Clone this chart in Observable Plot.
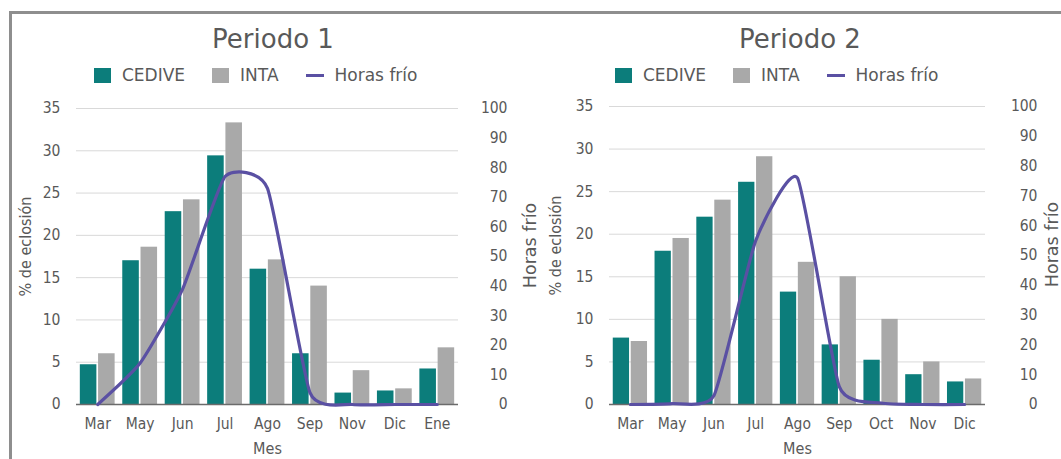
<!DOCTYPE html>
<html>
<head>
<meta charset="utf-8">
<script src="https://cdn.jsdelivr.net/npm/d3@7"></script>
<script src="https://cdn.jsdelivr.net/npm/@observablehq/plot@0.6"></script>
<style>
  html, body { margin: 0; padding: 0; background: #fff; }
  body { width: 1061px; height: 459px; overflow: hidden; position: relative; font-family: "DejaVu Sans", sans-serif; color: #595959; }
  #frame { position: absolute; left: 9px; top: 11px; width: 1200px; height: 600px; border: 3px solid #8e8e8e; box-sizing: border-box; }
  .title { position: absolute; font-size: 26px; line-height: 30px; white-space: nowrap; transform: translateX(-50%); }
  .legend { position: absolute; display: flex; align-items: center; font-size: 17px; line-height: 20px; white-space: nowrap; }
  .legend .item { display: flex; align-items: center; margin-right: 27px; }
  .legend .sw { width: 17px; height: 15px; margin-right: 11px; }
  .legend .ln { width: 18px; height: 3px; margin-right: 11px; }
  .panel { position: absolute; }
</style>
</head>
<body>
<div id="frame"></div>
<div id="root"></div>
<script>
// ---- data ----
const months1 = ["Mar", "May", "Jun", "Jul", "Ago", "Sep", "Nov", "Dic", "Ene"];
const cedive1 = [4.7, 17.0, 22.8, 29.4, 16.0, 6.0, 1.35, 1.6, 4.2];
const inta1   = [6.0, 18.6, 24.2, 33.3, 17.1, 14.0, 4.0, 1.85, 6.7];
const horas1  = [0, 14, 39, 77, 73, 4, 0, 0, 0];

const months2 = ["Mar", "May", "Jun", "Jul", "Ago", "Sep", "Oct", "Nov", "Dic"];
const cedive2 = [7.8, 18.0, 22.0, 26.1, 13.2, 7.0, 5.2, 3.5, 2.65];
const inta2   = [7.4, 19.5, 24.0, 29.1, 16.7, 15.0, 10.0, 5.0, 3.0];
const horas2  = [0, 0.3, 3, 55, 76, 6, 0.5, 0, 0];

const titles = ["Periodo 1", "Periodo 2"];
const seriesNames = ["CEDIVE", "INTA", "Horas frío"];
const yTicks = [0, 5, 10, 15, 20, 25, 30, 35];
const y2Ticks = [0, 10, 20, 30, 40, 50, 60, 70, 80, 90, 100];
const yLabel = "% de eclosión";
const y2Label = "Horas frío";
const xLabel = "Mes";

const colors = { CEDIVE: "#0c7d7b", INTA: "#a9a9a9", line: "#5a50a3" };
const textColor = "#595959";

// ---- layout per panel ----
const panels = [
  { months: months1, cedive: cedive1, inta: inta1, horas: horas1, title: titles[0],
    left: 0, top: 90, width: 530, mL: 76, mR: 72, titleX: 273, legendX: 94, rPad: 49, r2dx: 72, ldx: -51 },
  { months: months2, cedive: cedive2, inta: inta2, horas: horas2, title: titles[1],
    left: 530, top: 88, width: 531, mL: 79, mR: 76, titleX: 800, legendX: 615, rPad: 52, r2dx: 67, ldx: -54 }
];

const k = 35 / 100; // secondary axis mapping (Horas frío 0-100 -> 0-35)
const root = document.getElementById("root");

panels.forEach(p => {
  // title
  const t = document.createElement("div");
  t.className = "title";
  t.style.left = p.titleX + "px";
  t.style.top = "24px";
  t.textContent = p.title;
  root.appendChild(t);

  // legend
  const lg = document.createElement("div");
  lg.className = "legend";
  lg.style.left = p.legendX + "px";
  lg.style.top = "65px";
  lg.innerHTML =
    `<div class="item"><div class="sw" style="background:${colors.CEDIVE}"></div>${seriesNames[0]}</div>` +
    `<div class="item"><div class="sw" style="background:${colors.INTA}"></div>${seriesNames[1]}</div>` +
    `<div class="item"><div class="ln" style="background:${colors.line}"></div>${seriesNames[2]}</div>`;
  root.appendChild(lg);

  const n = p.months.length;
  const bars = [];
  p.months.forEach((m, i) => {
    bars.push({ i, s: "CEDIVE", v: p.cedive[i], x1: i - 0.41, x2: i - 0.02 });
    bars.push({ i, s: "INTA", v: p.inta[i], x1: i + 0.02, x2: i + 0.41 });
  });
  const line = p.horas.map((h, i) => ({ i, h }));

  const chart = Plot.plot({
    width: p.width,
    height: 459 - p.top,
    marginLeft: p.mL,
    marginRight: p.mR,
    marginTop: 18,
    marginBottom: 55,
    style: { fontFamily: "DejaVu Sans Condensed, DejaVu Sans, sans-serif", fontSize: "15.5px", color: textColor, background: "transparent", overflow: "visible" },
    x: { domain: [-0.5, n - 0.5] },
    y: { domain: [0, 35] },
    marks: [
      Plot.gridY(yTicks.filter(d => d > 0), { stroke: "#d9d9d9", strokeOpacity: 1 }),
      Plot.rectY(bars, { x1: "x1", x2: "x2", y: "v", fill: d => colors[d.s] }),
      Plot.ruleY([0], { stroke: "#6b6b6b", strokeWidth: 1.5 }),
      Plot.line(line, { x: "i", y: d => d.h * k, curve: "cardinal", tension: 0.5, stroke: colors.line, strokeWidth: 3.2 }),
      Plot.axisY(yTicks, { anchor: "left", tickSize: 0, tickPadding: 16, label: null }),
      Plot.axisY(y2Ticks.map(v => v * k), { anchor: "right", tickSize: 0, tickPadding: p.rPad, textAnchor: "end", tickFormat: d => String(Math.round(d / k)), label: null }),
      Plot.axisX(d3.range(n), { anchor: "bottom", tickSize: 0, tickPadding: 13, tickFormat: i => p.months[i], label: null }),
      Plot.text([yLabel], { text: d => d, frameAnchor: "left", textAnchor: "middle", dx: p.ldx, dy: -10, rotate: -90, fontSize: 16, fill: textColor }),
      Plot.text([y2Label], { text: d => d, frameAnchor: "right", textAnchor: "middle", dx: p.r2dx, dy: -11, rotate: -90, fontSize: 17.5, fontFamily: "DejaVu Sans", fill: textColor }),
      Plot.text([xLabel], { text: d => d, frameAnchor: "bottom", textAnchor: "middle", dy: 49, fontSize: 16, fill: textColor })
    ]
  });

  const wrap = document.createElement("div");
  wrap.className = "panel";
  wrap.style.left = p.left + "px";
  wrap.style.top = p.top + "px";
  wrap.appendChild(chart);
  root.appendChild(wrap);
});
</script>
</body>
</html>
